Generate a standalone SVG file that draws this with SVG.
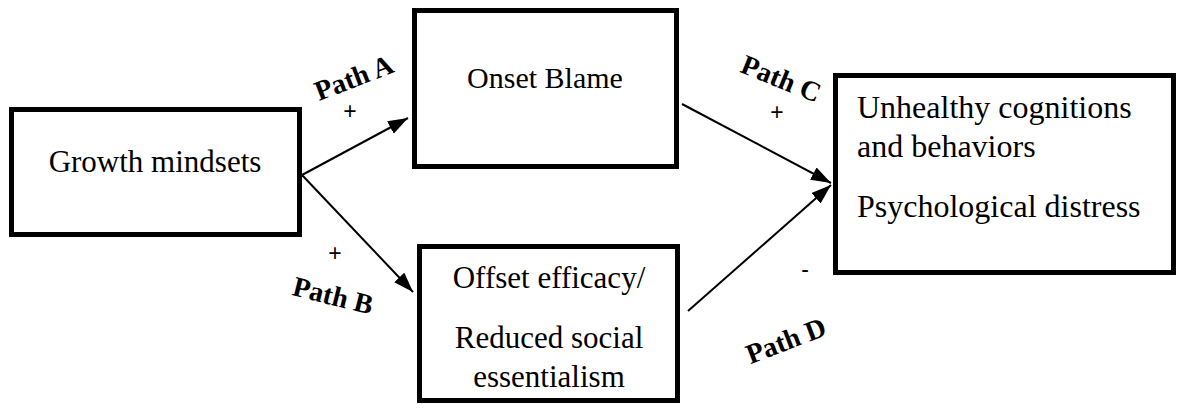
<svg xmlns="http://www.w3.org/2000/svg" width="1177" height="413" viewBox="0 0 1177 413">
<defs>
<style>
.box{fill:#fff;stroke:#000;stroke-width:5}
.t{font-family:"Liberation Serif","Times New Roman",serif;font-size:31px;fill:#000}
.p{font-family:"Liberation Serif","Times New Roman",serif;font-size:28px;font-weight:bold;fill:#000}
.s{font-family:"Liberation Sans",Arial,sans-serif;font-size:23px;fill:#000}
.c{stroke:#000;stroke-width:2;fill:none}
</style>
<marker id="ah" markerUnits="userSpaceOnUse" markerWidth="22" markerHeight="16" refX="20" refY="7" orient="auto">
<path d="M0,0 L20,7 L0,14 z" fill="#000"/>
</marker>
</defs>
<rect width="1177" height="413" fill="#fff"/>
<g id="connectors">
<line class="c" x1="302" y1="175" x2="408" y2="118" marker-end="url(#ah)"/>
<line class="c" x1="302" y1="175" x2="413" y2="292" marker-end="url(#ah)"/>
<line class="c" x1="682" y1="104" x2="831" y2="183" marker-end="url(#ah)"/>
<line class="c" x1="688" y1="311" x2="831" y2="185" marker-end="url(#ah)"/>
</g>
<g id="growth">
<rect class="box" x="11.5" y="109.5" width="288" height="125"/>
<text class="t" x="155" y="172" text-anchor="middle">Growth mindsets</text>
</g>
<g id="onset">
<rect class="box" x="414.5" y="10.5" width="262" height="156"/>
<text class="t" x="545" y="88" text-anchor="middle" style="font-size:30px">Onset Blame</text>
</g>
<g id="offset">
<rect class="box" x="419.5" y="246.5" width="258" height="154"/>
<text class="t" x="549" y="288" text-anchor="middle">Offset efficacy/</text>
<text class="t" x="549" y="348" text-anchor="middle">Reduced social</text>
<text class="t" x="549" y="387" text-anchor="middle">essentialism</text>
</g>
<g id="outcome">
<rect class="box" x="835.5" y="75.5" width="338" height="197"/>
<text class="t" x="857" y="118" style="font-size:32px">Unhealthy cognitions</text>
<text class="t" x="857" y="157" style="font-size:32px">and behaviors</text>
<text class="t" x="857" y="217" style="font-size:32px">Psychological distress</text>
</g>
<g id="labels">
<text class="p" transform="translate(354,78) rotate(-21)" y="9" text-anchor="middle">Path A</text>
<text class="s" x="350" y="119" text-anchor="middle">+</text>
<text class="p" transform="translate(333,296) rotate(14)" y="9" text-anchor="middle">Path B</text>
<text class="s" x="335" y="261" text-anchor="middle">+</text>
<text class="p" transform="translate(781,79) rotate(22)" y="9" text-anchor="middle">Path C</text>
<text class="s" x="777" y="120" text-anchor="middle">+</text>
<text class="p" transform="translate(786,341) rotate(-21)" y="9" text-anchor="middle">Path D</text>
<text class="s" x="805" y="277" text-anchor="middle">-</text>
</g>
</svg>
